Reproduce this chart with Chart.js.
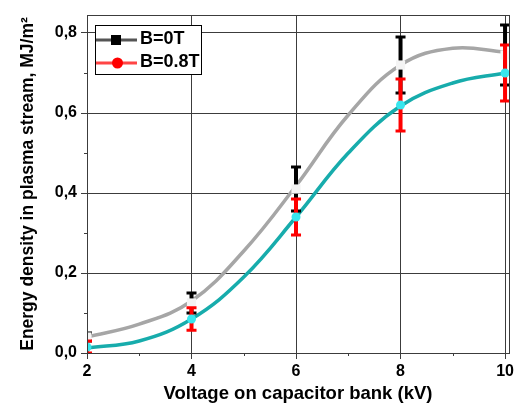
<!DOCTYPE html>
<html>
<head>
<meta charset="utf-8">
<script src="https://cdn.jsdelivr.net/npm/chart.js@4/dist/chart.umd.min.js"></script>
<style>
  html, body { margin: 0; padding: 0; background: #fff; }
  #wrap { width: 517px; height: 405px; }
</style>
</head>
<body>
<div id="wrap"><canvas id="energy-chart"></canvas></div>
<script>
// Measured points
const voltage = [2, 4, 6, 8, 10];
const energyB0 = [0.04, 0.125, 0.41, 0.72, 0.745];
const errB0 = [0.01, 0.025, 0.055, 0.07, 0.075];
const energyB08 = [0.015, 0.085, 0.34, 0.62, 0.70];
const errB08 = [0.015, 0.028, 0.045, 0.065, 0.07];

// Smooth fitted curves
const fitVoltage = [2, 3, 4, 5, 6, 7, 8, 9, 10];
const fitB0 = [0.04, 0.072, 0.13, 0.255, 0.418, 0.595, 0.72, 0.762, 0.752];
const fitB08 = [0.0125, 0.03, 0.085, 0.19, 0.34, 0.50, 0.6175, 0.675, 0.70];

// Ticks (major + minor)
const xTicks = [2, 3, 4, 5, 6, 7, 8, 9, 10];
const yTicks = [0, 0.1, 0.2, 0.3, 0.4, 0.5, 0.6, 0.7, 0.8];

const FONT = '"Liberation Sans", Arial, sans-serif';
const GRID = '#3c3c3c';
const CLEAR = 'rgba(0,0,0,0)';

const pairs = (xs, ys) => xs.map((x, i) => ({ x: x, y: ys[i] }));
const isMajor = (v, step) => Math.round(v / step) % 2 === 0;

function drawErrors(chart, values, errs, color) {
  const ctx = chart.ctx;
  const xs = chart.scales.x, ys = chart.scales.y;
  const area = chart.chartArea;
  ctx.save();
  ctx.beginPath();
  ctx.rect(area.left, area.top, area.right - area.left, area.bottom - area.top);
  ctx.clip();
  ctx.strokeStyle = color;
  voltage.forEach((v, i) => {
    const px = xs.getPixelForValue(v);
    const top = ys.getPixelForValue(values[i] + errs[i]);
    const bot = ys.getPixelForValue(values[i] - errs[i]);
    ctx.lineWidth = 4;
    ctx.beginPath();
    ctx.moveTo(px, top);
    ctx.lineTo(px, bot);
    ctx.stroke();
    ctx.lineWidth = 3;
    ctx.beginPath();
    ctx.moveTo(px - 5, top);
    ctx.lineTo(px + 5, top);
    ctx.moveTo(px - 5, bot);
    ctx.lineTo(px + 5, bot);
    ctx.stroke();
  });
  ctx.restore();
}

const errorBars = {
  id: 'errorBars',
  beforeDatasetDraw(chart, args) {
    if (args.index === 2) drawErrors(chart, energyB0, errB0, '#000000');
    if (args.index === 3) drawErrors(chart, energyB08, errB08, '#ff0000');
  }
};

const frameAndLegend = {
  id: 'frameAndLegend',
  afterDraw(chart) {
    const ctx = chart.ctx;
    const a = chart.chartArea;
    const xs = chart.scales.x, ys = chart.scales.y;
    ctx.save();
    ctx.strokeStyle = GRID;
    ctx.lineWidth = 1;
    ctx.strokeRect(Math.round(a.left) + 0.5, Math.round(a.top) + 0.5,
      Math.round(a.right - a.left), Math.round(a.bottom - a.top));

    // short minor ticks
    ctx.beginPath();
    xTicks.filter(v => !isMajor(v, 1)).forEach(v => {
      const px = Math.round(xs.getPixelForValue(v)) + 0.5;
      ctx.moveTo(px, a.bottom);
      ctx.lineTo(px, a.bottom + 3);
    });
    yTicks.filter(v => !isMajor(v, 0.1)).forEach(v => {
      const py = Math.round(ys.getPixelForValue(v)) + 0.5;
      ctx.moveTo(a.left, py);
      ctx.lineTo(a.left - 3, py);
    });
    ctx.stroke();

    // legend box
    const lx = 95, ly = 25, lw = 106, lh = 49;
    ctx.fillStyle = '#fff';
    ctx.fillRect(lx, ly, lw, lh);
    ctx.strokeStyle = '#000';
    ctx.strokeRect(lx + 0.5, ly + 0.5, lw, lh);

    const rows = [
      { y: 40, text: 'B=0T', line: '#555555', mark: '#000000', shape: 'rect' },
      { y: 63, text: 'B=0.8T', line: '#ff4545', mark: '#ff0000', shape: 'circle' }
    ];
    rows.forEach(r => {
      ctx.strokeStyle = r.line;
      ctx.lineWidth = 3;
      ctx.beginPath();
      ctx.moveTo(96, r.y);
      ctx.lineTo(137, r.y);
      ctx.stroke();
      ctx.fillStyle = r.mark;
      if (r.shape === 'rect') {
        ctx.fillRect(111, r.y - 5, 10, 10);
      } else {
        ctx.beginPath();
        ctx.arc(117.5, r.y, 5.5, 0, Math.PI * 2);
        ctx.fill();
      }
      ctx.fillStyle = '#000';
      ctx.font = 'bold 18px ' + FONT;
      ctx.textBaseline = 'middle';
      ctx.textAlign = 'left';
      ctx.fillText(r.text, 140, r.y - 1);
    });
    ctx.restore();
  }
};

const energyChart = new Chart(document.getElementById('energy-chart'), {
  type: 'line',
  data: {
    datasets: [
      {
        label: 'B=0T fit',
        data: pairs(fitVoltage, fitB0),
        borderColor: '#a6a6a6',
        borderWidth: 3.5,
        pointRadius: 0,
        tension: 0.4,
        order: 5
      },
      {
        label: 'B=0.8T fit',
        data: pairs(fitVoltage, fitB08),
        borderColor: '#17acac',
        borderWidth: 3.5,
        pointRadius: 0,
        tension: 0.4,
        order: 4
      },
      {
        label: 'B=0T',
        data: pairs(voltage, energyB0),
        showLine: false,
        pointStyle: 'rect',
        pointRadius: 6.5,
        pointBorderWidth: 0,
        pointBackgroundColor: '#f4f4f4',
        order: 3
      },
      {
        label: 'B=0.8T',
        data: pairs(voltage, energyB08),
        showLine: false,
        pointStyle: 'circle',
        pointRadius: 4.5,
        pointBorderWidth: 0,
        pointBackgroundColor: '#38e6ee',
        order: 2
      }
    ]
  },
  options: {
    responsive: true,
    maintainAspectRatio: false,
    animation: false,
    layout: { padding: { top: 15, right: 6, left: 0, bottom: 0 } },
    plugins: {
      legend: { display: false },
      tooltip: { enabled: false }
    },
    scales: {
      x: {
        type: 'linear',
        min: 2,
        max: 10.076,
        afterBuildTicks: s => { s.ticks = xTicks.map(v => ({ value: v })); },
        afterFit: s => { s.height = 52; },
        ticks: {
          autoSkip: false,
          maxRotation: 0,
          padding: 3,
          color: '#000',
          font: { family: FONT, size: 16, weight: 'bold' },
          callback: v => (isMajor(v, 1) ? String(v) : '')
        },
        grid: {
          color: c => (c.tick && isMajor(c.tick.value, 1) ? GRID : CLEAR),
          tickColor: c => (c.tick && isMajor(c.tick.value, 1) ? GRID : CLEAR),
          tickLength: 6,
          lineWidth: 1
        },
        border: { color: GRID },
        title: {
          display: true,
          text: 'Voltage on capacitor bank (kV)',
          color: '#000',
          padding: 0,
          font: { family: FONT, size: 18.5, weight: 'bold' }
        }
      },
      y: {
        min: 0,
        max: 0.845,
        afterBuildTicks: s => { s.ticks = yTicks.map(v => ({ value: v })); },
        afterFit: s => { s.width = 87; },
        ticks: {
          autoSkip: false,
          padding: 4,
          color: '#000',
          font: { family: FONT, size: 16, weight: 'bold' },
          callback: v => (isMajor(v, 0.1) ? v.toFixed(1).replace('.', ',') : '')
        },
        grid: {
          color: c => (c.tick && isMajor(c.tick.value, 0.1) ? GRID : CLEAR),
          tickColor: c => (c.tick && isMajor(c.tick.value, 0.1) ? GRID : CLEAR),
          tickLength: 6,
          lineWidth: 1
        },
        border: { color: GRID },
        title: {
          display: true,
          text: 'Energy density in plasma stream, MJ/m²',
          color: '#000',
          padding: 18,
          font: { family: FONT, size: 17.5, weight: 'bold' }
        }
      }
    }
  },
  plugins: [errorBars, frameAndLegend]
});
</script>
</body>
</html>
